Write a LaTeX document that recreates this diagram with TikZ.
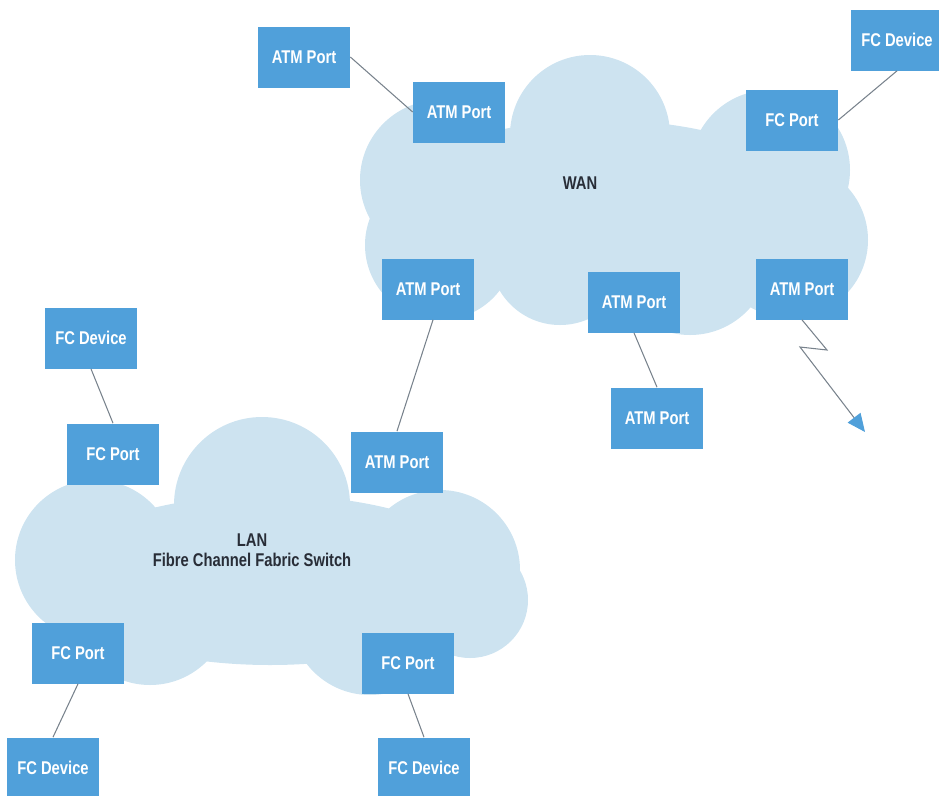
\documentclass[tikz,border=0pt]{standalone}
\usepackage{fontspec}
\newfontfamily\boxfont{Liberation Sans}[FakeStretch=0.8]
\usepackage{xcolor}
\usetikzlibrary{arrows.meta}
\definecolor{portblue}{RGB}{80,160,218}
\definecolor{cloudblue}{RGB}{205,227,240}
\definecolor{linkgray}{RGB}{120,130,140}
\definecolor{netdark}{RGB}{40,45,55}
\tikzset{
  port/.style={rectangle, fill=portblue, minimum width=18.4mm, minimum height=12.2mm,
               inner sep=0pt, font=\boxfont\bfseries\fontsize{10.5}{12}\selectfont, text=white},
  cloudpart/.style={fill=cloudblue, draw=none},
  link/.style={line width=0.6pt, linkgray},
  zap/.style={link, -{Triangle[length=3.6mm, width=3.2mm, fill=portblue, color=portblue]}},
  netlbl/.style={font=\boxfont\bfseries\fontsize{10.5}{11.5}\selectfont, text=netdark, align=center}
}

\begin{document}
\begin{tikzpicture}[x=0.2mm, y=-0.2mm]
\useasboundingbox (0,0) rectangle (939,796);
% WAN cloud
\fill[cloudpart] (590,135) circle [radius=16mm];
\fill[cloudpart] (440,180) circle [radius=16mm];
\fill[cloudpart] (440,245) circle [radius=15mm];
\fill[cloudpart] (770,170) circle [radius=16mm];
\fill[cloudpart] (790,240) circle [radius=15.6mm];
\fill[cloudpart] (560,255) circle [radius=14mm];
\fill[cloudpart] (690,255) circle [radius=16mm];
\fill[cloudpart] (600,210) ellipse [x radius=44mm, y radius=18mm];
% LAN cloud
\fill[cloudpart] (262,505) circle [radius=17.6mm];
\fill[cloudpart] (95,560) circle [radius=16mm];
\fill[cloudpart] (440,570) circle [radius=16mm];
\fill[cloudpart] (470,600) circle [radius=11.6mm];
\fill[cloudpart] (150,605) circle [radius=16mm];
\fill[cloudpart] (370,615) circle [radius=16mm];
\fill[cloudpart] (270,580) ellipse [x radius=44mm, y radius=17mm];

\node[netlbl] (wan) at (580,183) {WAN};
\node[netlbl] (lan) at (252,550) {LAN\\Fibre Channel Fabric Switch};

% WAN side
\node[port] (atmfar) at (304,57) {ATM Port};
\node[port] (wanatma) at (459,112) {ATM Port};
\node[port] (fcdeva) at (897,40) {FC Device};
\node[port] (wanfc) at (792,120) {FC Port};
\node[port] (wanatmb) at (428,289) {ATM Port};
\node[port] (wanatmc) at (634,302) {ATM Port};
\node[port] (wanatmd) at (802,289) {ATM Port};
\node[port] (atmlow) at (657,418) {ATM Port};
% LAN side
\node[port] (fcdevb) at (91,338) {FC Device};
\node[port] (lanfca) at (113,454) {FC Port};
\node[port] (lanatm) at (397,462) {ATM Port};
\node[port] (lanfcb) at (78,653) {FC Port};
\node[port] (lanfcc) at (408,663) {FC Port};
\node[port] (fcdevc) at (53,768) {FC Device};
\node[port] (fcdevd) at (424,768) {FC Device};

\coordinate (zapend) at (865,432);

\draw[link] (atmfar.east) -- (wanatma.west);
\draw[link] (fcdeva.south) -- (wanfc.east);
\draw[link] ([xshift=1mm]wanatmb.south) -- (lanatm.north);
\draw[link] (wanatmc.south) -- (atmlow.north);
\draw[link] (fcdevb.south) -- (lanfca.north);
\draw[link] (lanfcb.south) -- (fcdevc.north);
\draw[link] (lanfcc.south) -- (fcdevd.north);
\draw[zap] (wanatmd.south) -- (827,350) -- (800,347) -- (zapend);
\end{tikzpicture}
\end{document}
